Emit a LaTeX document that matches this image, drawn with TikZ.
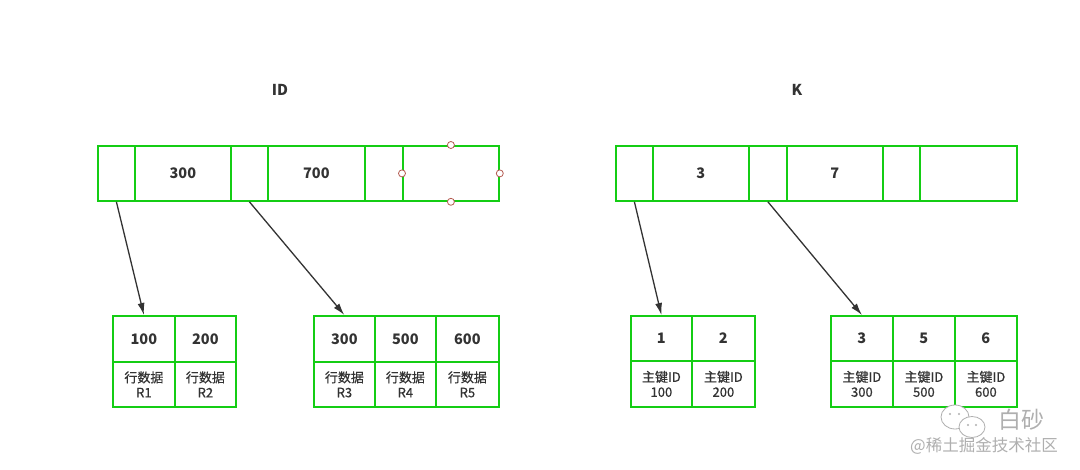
\documentclass[tikz,border=0pt]{standalone}
\usepackage{fontspec}
\setmainfont{Noto Sans CJK SC}
\newfontfamily\medfont{Noto Sans CJK SC}[FakeBold=0.6]
\usetikzlibrary{arrows.meta}
\definecolor{boxgreen}{RGB}{20,205,20}
\definecolor{txt}{RGB}{51,51,51}
\definecolor{handle}{RGB}{180,90,80}
\definecolor{wm}{RGB}{175,175,175}
\begin{document}
\begin{tikzpicture}[x=1pt,y=-1pt,
  cell/.style={draw=boxgreen,line width=1.8pt,anchor=north west,inner sep=0pt,
    text=txt,font=\fontsize{14.5}{16}\selectfont\bfseries},
  lowcell/.style={cell,align=center,font=\medfont\fontsize{13}{15}\selectfont},
  title/.style={text=txt,font=\fontsize{15}{17}\selectfont\bfseries},
  ptr/.style={draw=txt,line width=1.3pt,-{Latex[length=12pt,width=7pt]}},
  hdl/.style={circle,draw=handle,fill=white,line width=0.8pt,inner sep=0pt,minimum size=7pt}]
\useasboundingbox[fill=white] (0,0) rectangle (1080,470);
% titles
\node[title] (tid) at (280,90) {ID};
\node[title] (tk) at (797,90) {K};
% top left bar
\node[cell,minimum width=37pt,minimum height=55pt] (a1) at (97,145) {};
\node[cell,minimum width=96pt,minimum height=55pt] (a2) at (134,145) {300};
\node[cell,minimum width=37pt,minimum height=55pt] (a3) at (230,145) {};
\node[cell,minimum width=97pt,minimum height=55pt] (a4) at (267,145) {700};
\node[cell,minimum width=38pt,minimum height=55pt] (a5) at (364,145) {};
\node[cell,minimum width=96pt,minimum height=55pt] (a6) at (402,145) {};
% selection handles
\node[hdl] (h1) at (a6.north) {};
\node[hdl] (h2) at (a6.south) {};
\node[hdl] (h3) at (a6.west) {};
\node[hdl] (h4) at (a6.east) {};
% top right bar
\node[cell,minimum width=37pt,minimum height=55pt] (k1) at (615,145) {};
\node[cell,minimum width=96pt,minimum height=55pt] (k2) at (652,145) {3};
\node[cell,minimum width=38pt,minimum height=55pt] (k3) at (748,145) {};
\node[cell,minimum width=96pt,minimum height=55pt] (k4) at (786,145) {7};
\node[cell,minimum width=37pt,minimum height=55pt] (k5) at (882,145) {};
\node[cell,minimum width=97pt,minimum height=55pt] (k6) at (919,145) {};
% bottom left leaves
\node[cell,minimum width=62pt,minimum height=46pt] (b1) at (112,315) {100};
\node[cell,minimum width=61pt,minimum height=46pt] (b2) at (174,315) {200};
\node[lowcell,minimum width=62pt,minimum height=45pt] (b1r) at (112,361) {行数据\\R1};
\node[lowcell,minimum width=61pt,minimum height=45pt] (b2r) at (174,361) {行数据\\R2};
\node[cell,minimum width=61pt,minimum height=46pt] (c1) at (313,315) {300};
\node[cell,minimum width=61pt,minimum height=46pt] (c2) at (374,315) {500};
\node[cell,minimum width=63pt,minimum height=46pt] (c3) at (435,315) {600};
\node[lowcell,minimum width=61pt,minimum height=45pt] (c1r) at (313,361) {行数据\\R3};
\node[lowcell,minimum width=61pt,minimum height=45pt] (c2r) at (374,361) {行数据\\R4};
\node[lowcell,minimum width=63pt,minimum height=45pt] (c3r) at (435,361) {行数据\\R5};
% bottom right leaves
\node[cell,minimum width=61pt,minimum height=45pt] (d1) at (630,315) {1};
\node[cell,minimum width=63pt,minimum height=45pt] (d2) at (691,315) {2};
\node[lowcell,minimum width=61pt,minimum height=46pt] (d1r) at (630,360) {主键ID\\100};
\node[lowcell,minimum width=63pt,minimum height=46pt] (d2r) at (691,360) {主键ID\\200};
\node[cell,minimum width=62pt,minimum height=45pt] (e1) at (830,315) {3};
\node[cell,minimum width=62pt,minimum height=45pt] (e2) at (892,315) {5};
\node[cell,minimum width=62pt,minimum height=45pt] (e3) at (954,315) {6};
\node[lowcell,minimum width=62pt,minimum height=46pt] (e1r) at (830,360) {主键ID\\300};
\node[lowcell,minimum width=62pt,minimum height=46pt] (e2r) at (892,360) {主键ID\\500};
\node[lowcell,minimum width=62pt,minimum height=46pt] (e3r) at (954,360) {主键ID\\600};
% pointers
\draw[ptr] (a1.south) -- (b1.north);
\draw[ptr] (a3.south) -- (c1.north);
\draw[ptr] (k1.south) -- (d1.north);
\draw[ptr] (k3.south) -- (e1.north);
% watermark
\draw[wm,line width=0.8pt,fill=white] (955,417) ellipse (14pt and 12pt);
\draw[wm,line width=0.8pt,fill=white] (972,427) ellipse (13pt and 10.5pt);
\fill[wm] (950,414) circle (1.2pt) (959,414) circle (1.2pt) (968,425) circle (1.1pt) (976,425) circle (1.1pt);
\node[text=wm,font=\fontsize{23}{25}\selectfont] (wm1) at (1021,420) {白砂};
\node[text=wm,font=\fontsize{16.5}{18}\selectfont] (wm2) at (984,446) {@稀土掘金技术社区};
\end{tikzpicture}
\end{document}
